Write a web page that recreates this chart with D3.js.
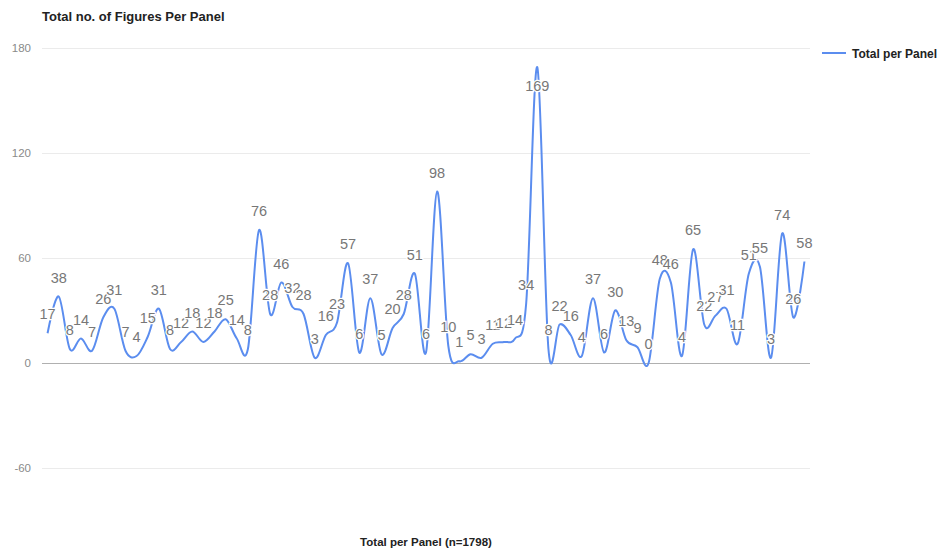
<!DOCTYPE html>
<html>
<head>
<meta charset="utf-8">
<script src="https://cdn.jsdelivr.net/npm/d3@7"></script>
<style>
  html, body { margin: 0; padding: 0; background: #fff; }
  svg { display: block; font-family: Arial, "Liberation Sans", sans-serif; }
</style>
</head>
<body>
<svg id="chart" width="942" height="552"></svg>
<script>
const title = "Total no. of Figures Per Panel";
const seriesName = "Total per Panel";
const xTitle = "Total per Panel (n=1798)";
const values = [17, 38, 8, 14, 7, 26, 31, 7, 4, 15, 31, 8, 12, 18, 12, 18, 25, 14, 8, 76,
  28, 46, 32, 28, 3, 16, 23, 57, 6, 37, 5, 20, 28, 51, 6, 98, 10, 1, 5, 3,
  11, 12, 14, 34, 169, 8, 22, 16, 4, 37, 6, 30, 13, 9, 0, 48, 46, 4, 65, 22,
  27, 31, 11, 51, 55, 3, 74, 26, 58];
const categories = values.map((d, i) => "Panel " + (i + 1));
const yTicks = [-60, 0, 60, 120, 180];

(function () {
const svg = d3.select("#chart");
const pLeft = 42, pRight = 810, pTop = 48, pBottom = 468;

const x = d3.scaleBand().domain(categories).range([pLeft, pRight]);
const y = d3.scaleLinear().domain([-60, 180]).range([pBottom, pTop]);
const cx = c => x(c) + x.bandwidth() / 2;

// gridlines
svg.append("g").selectAll("line").data(yTicks).join("line")
  .attr("x1", pLeft).attr("x2", pRight)
  .attr("y1", d => y(d)).attr("y2", d => y(d))
  .attr("stroke", d => d === 0 ? "#b0b0b0" : "#ebebeb")
  .attr("stroke-width", 1)
  .attr("shape-rendering", "crispEdges");

// y-axis labels
svg.append("g").selectAll("text").data(yTicks).join("text")
  .attr("x", 31).attr("y", d => y(d) + 4)
  .attr("text-anchor", "end")
  .attr("font-size", 11.5)
  .attr("fill", "#8a8a8a")
  .text(d => d);

// line
const line = d3.line()
  .x((d, i) => cx(categories[i]))
  .y(d => y(d))
  .curve(d3.curveCatmullRom.alpha(0));

svg.append("path")
  .datum(values)
  .attr("d", line)
  .attr("fill", "none")
  .attr("stroke", "#5b8def")
  .attr("stroke-width", 2);

// annotations
svg.append("g").selectAll("text").data(values).join("text")
  .attr("x", (d, i) => cx(categories[i]))
  .attr("y", d => (y(d) - 24 < pTop ? y(d) + 24 : y(d) - 14))
  .attr("text-anchor", "middle")
  .attr("font-size", 14.5)
  .attr("fill", "#777")
  .attr("stroke", "#fff")
  .attr("stroke-width", 2.5)
  .attr("paint-order", "stroke")
  .text(d => d);

// title
svg.append("text")
  .attr("x", 42).attr("y", 21)
  .attr("font-size", 13).attr("font-weight", "bold")
  .attr("fill", "#222")
  .text(title);

// legend
svg.append("line")
  .attr("x1", 822).attr("x2", 846)
  .attr("y1", 53).attr("y2", 53)
  .attr("stroke", "#5b8def").attr("stroke-width", 2);
svg.append("text")
  .attr("x", 852).attr("y", 57.5)
  .attr("font-size", 12).attr("font-weight", "bold")
  .attr("fill", "#222")
  .text(seriesName);

// x title
svg.append("text")
  .attr("x", 426).attr("y", 546)
  .attr("text-anchor", "middle")
  .attr("font-size", 11.5).attr("font-weight", "bold")
  .attr("fill", "#222")
  .text(xTitle);
})();
</script>
</body>
</html>
